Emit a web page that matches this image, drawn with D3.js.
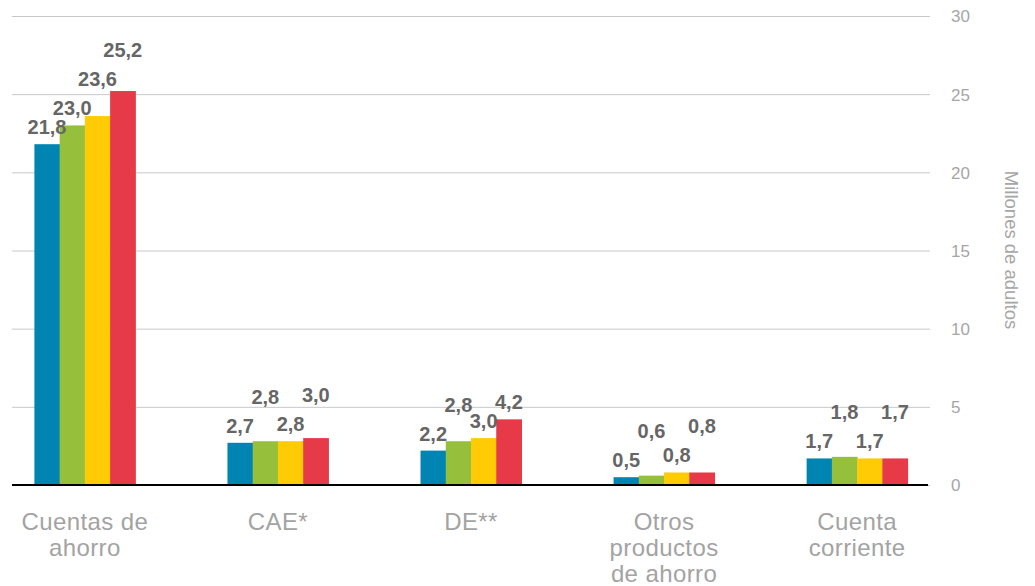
<!DOCTYPE html>
<html>
<head>
<meta charset="utf-8">
<script src="https://cdn.jsdelivr.net/npm/d3@7"></script>
<style>
  html, body { margin: 0; padding: 0; background: #ffffff; }
  svg { display: block; }
</style>
</head>
<body>
<svg id="chart" width="1035" height="586"></svg>
<script>
// ---- Data ----
const categories = ["Cuentas de ahorro", "CAE*", "DE**", "Otros productos de ahorro", "Cuenta corriente"];
const categoryLines = [["Cuentas de", "ahorro"], ["CAE*"], ["DE**"], ["Otros", "productos", "de ahorro"], ["Cuenta", "corriente"]];
const seriesNames = ["Serie 1", "Serie 2", "Serie 3", "Serie 4"];
const serie1 = [21.8, 2.7, 2.2, 0.5, 1.7];
const serie2 = [23.0, 2.8, 2.8, 0.6, 1.8];
const serie3 = [23.6, 2.8, 3.0, 0.8, 1.7];
const serie4 = [25.2, 3.0, 4.2, 0.8, 1.7];
const yTicks = [0, 5, 10, 15, 20, 25, 30];
const yTitle = "Millones de adultos";

// ---- Style ----
const colors = ["#0085b3", "#96c03b", "#ffcb05", "#e63a48"];
const seriesValues = [serie1, serie2, serie3, serie4];

const svg = d3.select("#chart");
const plotLeft = 12, plotRight = 930, plotTop = 16, plotBottom = 485;

const x = d3.scaleBand().domain(categories).range([plotLeft, plotRight])
  .paddingInner(0.477).paddingOuter(0.116);
const xs = d3.scaleBand().domain(seriesNames).range([0, x.bandwidth()]).padding(0);
const y = d3.scaleLinear().domain([0, 30]).range([plotBottom, plotTop]);

// gridlines + right axis
const yAxis = d3.axisRight(y).tickValues(yTicks).tickSize(plotRight - plotLeft).tickPadding(21);
const gAxis = svg.append("g").attr("transform", `translate(${plotLeft},0)`).call(yAxis);
gAxis.select(".domain").remove();
gAxis.selectAll(".tick line").attr("stroke", "#c8c8c8").attr("stroke-width", 1);
gAxis.selectAll(".tick text")
  .attr("fill", "#a6a6a6")
  .style("font-family", "'Liberation Sans', Arial, sans-serif")
  .style("font-size", "17px")
  .attr("dy", "0.35em");

// axis title
svg.append("text")
  .attr("transform", `translate(1005,250) rotate(90)`)
  .attr("text-anchor", "middle")
  .attr("fill", "#a6a6a6")
  .style("font-family", "'Liberation Sans', Arial, sans-serif")
  .style("font-size", "18.5px")
  .text(yTitle);

// bars
const groups = svg.append("g").selectAll("g.grp")
  .data(categories)
  .join("g")
  .attr("class", "grp")
  .attr("transform", d => `translate(${x(d)},0)`);

groups.selectAll("rect")
  .data((c, ci) => seriesNames.map((s, si) => ({ s, si, v: seriesValues[si][ci] })))
  .join("rect")
  .attr("x", d => xs(d.s))
  .attr("width", xs.bandwidth() + 0.5)
  .attr("y", d => y(d.v))
  .attr("height", d => y(0) - y(d.v))
  .attr("fill", d => colors[d.si]);

// baseline
svg.append("line")
  .attr("x1", plotLeft).attr("x2", plotRight - 2)
  .attr("y1", y(0)).attr("y2", y(0))
  .attr("stroke", "#000").attr("stroke-width", 2);

// value labels with simple collision avoidance
const fmt = v => d3.format(".1f")(v).replace(".", ",");
const labelLayer = svg.append("g");
categories.forEach((c, ci) => {
  const placed = [];
  seriesNames.forEach((s, si) => {
    const v = seriesValues[si][ci];
    const cx = x(c) + xs(s) + xs.bandwidth() / 2;
    const t = labelLayer.append("text")
      .attr("x", cx)
      .attr("text-anchor", "middle")
      .attr("fill", "#666666")
      .style("font-family", "'Liberation Sans', Arial, sans-serif")
      .style("font-weight", "bold")
      .style("font-size", "20px")
      .text(fmt(v));
    const w = t.node().getComputedTextLength();
    let ly = y(v) - 10;
    let moved = true;
    while (moved) {
      moved = false;
      for (const p of placed) {
        if (Math.abs(cx - p.x) < (w + p.w) / 2 && Math.abs(ly - p.y) < 16) {
          ly = p.y - 29;
          moved = true;
        }
      }
    }
    t.attr("y", ly);
    placed.push({ x: cx, y: ly, w });
  });
});

// category labels
const catG = svg.append("g");
categories.forEach((c, ci) => {
  categoryLines[ci].forEach((line, li) => {
    catG.append("text")
      .attr("x", x(c) + x.bandwidth() / 2)
      .attr("y", 530 + li * 26)
      .attr("text-anchor", "middle")
      .attr("fill", "#a3a3a3")
      .style("font-family", "'Liberation Sans', Arial, sans-serif")
      .style("font-size", "24px")
      .style("letter-spacing", "0.4px")
      .text(line);
  });
});
</script>
</body>
</html>
